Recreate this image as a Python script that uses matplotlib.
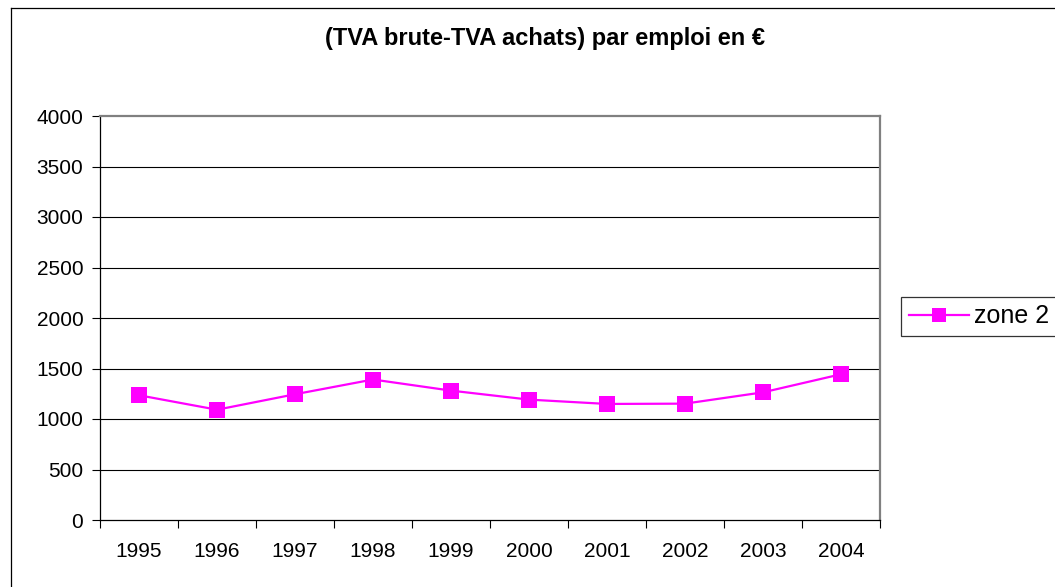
import matplotlib
matplotlib.use("Agg")
import matplotlib.pyplot as plt
from matplotlib.lines import Line2D
import numpy as np

plt.rcParams["font.family"] = ["Liberation Sans", "DejaVu Sans"]

years = ["1995", "1996", "1997", "1998", "1999", "2000", "2001", "2002", "2003", "2004"]
zone2 = [1235, 1092, 1245, 1391, 1281, 1192, 1149, 1152, 1264, 1443]
y_ticks = [0, 500, 1000, 1500, 2000, 2500, 3000, 3500, 4000]
title = "(TVA brute-TVA achats) par emploi en €"

W, H = 1055, 587
fig = plt.figure(figsize=(W / 100, H / 100), dpi=100)
ax = fig.add_axes([100 / W, 1 - 520 / H, 780 / W, 404 / H])

x = np.arange(len(years))
ax.plot(x, zone2, color="#FF00FF", lw=1.6, marker="s", markersize=11,
        markeredgewidth=0, label="zone 2", zorder=3)

ax.set_xlim(-0.5, len(years) - 0.5)
ax.set_ylim(0, 4000)

# y axis
ax.set_yticks(y_ticks)
ax.tick_params(axis="y", direction="out", length=6, width=0.8, labelsize=15, pad=6)
for v in y_ticks[1:-1]:
    ax.axhline(v, color="black", lw=0.8, zorder=1)

# x axis: ticks between categories, labels centered
ax.set_xticks(np.arange(len(years) + 1) - 0.5)
ax.set_xticklabels([])
ax.set_xticks(x, minor=True)
ax.set_xticklabels(years, minor=True)
ax.tick_params(axis="x", which="major", direction="out", length=6, width=0.8)
ax.tick_params(axis="x", which="minor", length=0, labelsize=15, pad=16)

for s in ["left", "bottom"]:
    ax.spines[s].set_color("black")
    ax.spines[s].set_linewidth(0.9)
for s in ["top", "right"]:
    ax.spines[s].set_color("#808080")
    ax.spines[s].set_linewidth(1.6)

fig.text(545 / W, 1 - 39 / H, title, ha="center", va="center",
         fontsize=17, fontweight="bold")

leg = ax.legend(loc="upper left", bbox_to_anchor=(901 / W, 1 - 297 / H),
                bbox_transform=fig.transFigure, fontsize=18, frameon=True,
                fancybox=False, borderaxespad=0, borderpad=0.3,
                handlelength=2.4, handletextpad=0.2, markerscale=0.9)
leg.get_frame().set_edgecolor("black")
leg.get_frame().set_linewidth(0.9)

# outer chart border
fig.add_artist(Line2D([10.5 / W, 10.5 / W], [0, 1 - 7.5 / H], color="black", lw=0.9))
fig.add_artist(Line2D([10.5 / W, 1], [1 - 7.5 / H, 1 - 7.5 / H], color="black", lw=0.9))

fig.savefig("out.png", dpi=100)
